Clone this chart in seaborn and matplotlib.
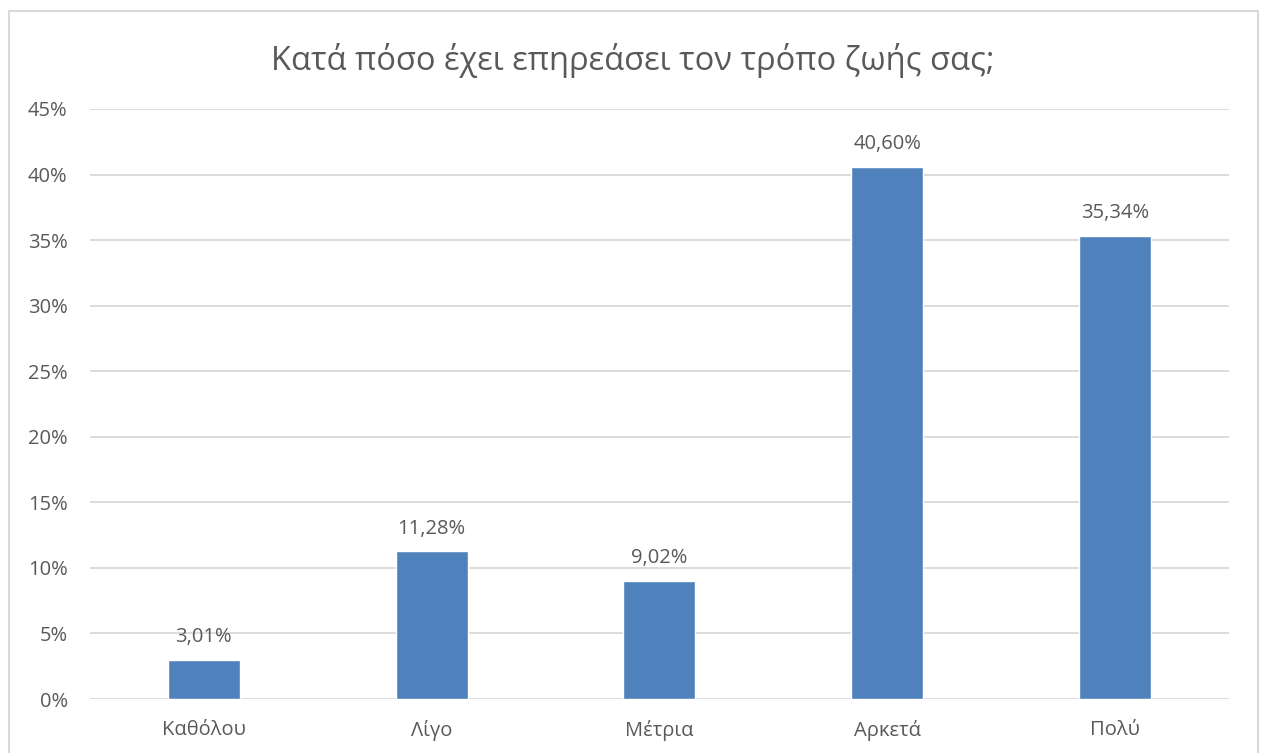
import matplotlib
matplotlib.use("Agg")
import matplotlib.pyplot as plt
import seaborn as sns
import pandas as pd
from matplotlib.patches import Rectangle
from matplotlib.ticker import PercentFormatter

categories = ['Καθόλου', 'Λίγο', 'Μέτρια', 'Αρκετά', 'Πολύ']
values = [3.01, 11.28, 9.02, 40.60, 35.34]
labels = ['3,01%', '11,28%', '9,02%', '40,60%', '35,34%']
title = 'Κατά πόσο έχει επηρεάσει τον τρόπο ζωής σας;'

df = pd.DataFrame({'category': categories, 'value': values})

sns.set_style('white')
plt.rcParams['font.family'] = ['Open Sans', 'DejaVu Sans']
text_color = '#595959'

fig = plt.figure(figsize=(12.65, 7.53), dpi=100)
ax = fig.add_axes([0.0711, 0.0717, 0.9004, 0.7836])

sns.barplot(data=df, x='category', y='value', color='#4F81BD', width=0.316,
            saturation=1, ax=ax)

ax.set_ylim(0, 45)
ax.set_yticks(range(0, 46, 5))
ax.yaxis.set_major_formatter(PercentFormatter(decimals=0))
ax.grid(axis='y', color='#D9D9D9', linewidth=1.3)
ax.set_axisbelow(True)
for s in ax.spines.values():
    s.set_visible(False)
ax.tick_params(axis='both', length=0, labelsize=14.5, labelcolor=text_color)
ax.tick_params(axis='x', pad=15)
ax.tick_params(axis='y', pad=16)
ax.set_xlabel('')
ax.set_ylabel('')

for i, (v, lab) in enumerate(zip(values, labels)):
    ax.annotate(lab, (i, v), xytext=(0, 9), textcoords='offset points',
                ha='center', va='bottom', fontsize=14.5, color=text_color)

fig.text(0.5, 0.92, title, ha='center', va='center', fontsize=23.5, color=text_color)

fig.patches.append(Rectangle((9 / 1265, -0.1), 1249 / 1265, 1.1 - 11 / 753,
                             transform=fig.transFigure, fill=False,
                             edgecolor='#D9D9D9', linewidth=1.5))

fig.savefig('out.png', dpi=100)
